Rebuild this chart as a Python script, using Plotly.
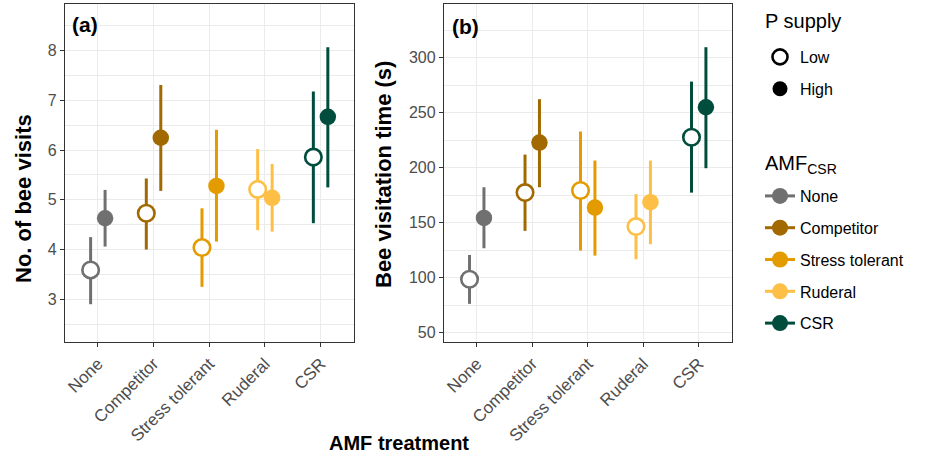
import plotly.graph_objects as go

# ---------------- data ----------------
categories = ["None", "Competitor", "Stress tolerant", "Ruderal", "CSR"]
amf_colors = ["#707070", "#A16900", "#E39B00", "#FDBF45", "#004D3D"]
p_levels = ["Low", "High"]

visits_low = [3.59, 4.73, 4.04, 5.21, 5.86]
visits_low_lo = [2.90, 4.00, 3.25, 4.39, 4.53]
visits_low_hi = [4.25, 5.43, 4.83, 6.02, 7.18]
visits_high = [4.63, 6.25, 5.28, 5.04, 6.67]
visits_high_lo = [4.06, 5.18, 4.16, 4.36, 5.25]
visits_high_hi = [5.20, 7.31, 6.41, 5.72, 8.07]

time_low = [98.6, 177.4, 179.3, 146.5, 227.8]
time_low_lo = [76.2, 142.6, 124.7, 116.8, 177.4]
time_low_hi = [120.7, 212.0, 233.0, 176.0, 278.4]
time_high = [154.4, 222.9, 163.8, 168.7, 255.1]
time_high_lo = [126.8, 182.3, 120.1, 130.5, 199.6]
time_high_hi = [182.3, 262.4, 206.6, 206.6, 309.7]

# ---------------- style ----------------
FONT = "Liberation Sans, Arial, Helvetica, sans-serif"
W, H = 927, 457
DODGE = 0.13
GRID = "#EBEBEB"
BORDER = "#333333"
TICKC = "#4D4D4D"

fig = go.Figure()

panels = [
    ("x", "y", (visits_low, visits_low_lo, visits_low_hi), (visits_high, visits_high_lo, visits_high_hi)),
    ("x2", "y2", (time_low, time_low_lo, time_low_hi), (time_high, time_high_lo, time_high_hi)),
]

for xa, ya, low, high in panels:
    for i, cat in enumerate(categories):
        c = amf_colors[i]
        for lvl, (vals, lo, hi), off in (("Low", low, -DODGE), ("High", high, DODGE)):
            v = vals[i]
            filled = lvl == "High"
            fig.add_trace(go.Scatter(
                x=[i + off], y=[v], xaxis=xa, yaxis=ya, mode="markers",
                showlegend=False,
                marker=dict(size=16.5, symbol="circle",
                            color=c if filled else "white",
                            line=dict(color=c, width=0 if filled else 2.6)),
                error_y=dict(type="data", symmetric=False,
                             array=[hi[i] - v], arrayminus=[v - lo[i]],
                             color=c, thickness=3, width=0),
            ))

# legend: P supply
for lvl in p_levels:
    filled = lvl == "High"
    fig.add_trace(go.Scatter(
        x=[None], y=[None], mode="markers", name=lvl, legend="legend",
        legendgroup="p" + lvl,
        marker=dict(size=15, symbol="circle", color="black" if filled else "white",
                    line=dict(color="black", width=0 if filled else 2.6)),
    ))
# legend: AMF
for i, cat in enumerate(categories):
    fig.add_trace(go.Scatter(
        x=[None], y=[None], mode="lines+markers", name=cat, legend="legend2",
        legendgroup="a" + cat,
        line=dict(color=amf_colors[i], width=3),
        marker=dict(size=16, color=amf_colors[i]),
    ))

def px_x(p):
    return p / W

def px_y(p):
    return 1 - p / H

top, bot = 4, 342
xa_dom = [px_x(65), px_x(354)]
xb_dom = [px_x(444), px_x(732)]
ydom = [px_y(bot), px_y(top)]

common_x = dict(
    tickvals=list(range(len(categories))), ticktext=categories, tickangle=-45,
    range=[-0.59, 4.6], showgrid=True, gridcolor=GRID, gridwidth=1.3,
    zeroline=False, showline=True, mirror=True, linecolor=BORDER, linewidth=1.3,
    ticks="outside", ticklen=4, tickcolor=BORDER, tickwidth=1.2,
    tickfont=dict(family=FONT, size=17, color=TICKC), automargin=False,
    fixedrange=True,
)
common_y = dict(
    showgrid=True, gridcolor=GRID, gridwidth=1.3, zeroline=False,
    showline=True, mirror=True, linecolor=BORDER, linewidth=1.3,
    ticks="outside", ticklen=4, tickcolor=BORDER, tickwidth=1.2,
    tickfont=dict(family=FONT, size=16, color=TICKC), automargin=False,
    domain=ydom,
)

legend_common = dict(
    xanchor="left", yanchor="top", font=dict(size=16, family=FONT, color="black"),
    traceorder="grouped", tracegroupgap=8, itemwidth=30, bgcolor="rgba(0,0,0,0)",
)

fig.update_layout(
    width=W, height=H, margin=dict(l=0, r=0, t=0, b=0),
    paper_bgcolor="white", plot_bgcolor="white",
    font=dict(family=FONT, color="black"),
    xaxis=dict(common_x, domain=xa_dom, anchor="y"),
    xaxis2=dict(common_x, domain=xb_dom, anchor="y2"),
    yaxis=dict(common_y, range=[2.14, 8.94], dtick=1, tick0=0, anchor="x",
               minor=dict(dtick=0.5, tick0=0, showgrid=True, gridcolor=GRID, gridwidth=0.7)),
    yaxis2=dict(common_y, range=[41.5, 349], dtick=50, tick0=0, anchor="x2",
                minor=dict(dtick=25, tick0=0, showgrid=True, gridcolor=GRID, gridwidth=0.7)),
    legend=dict(legend_common, x=px_x(760), y=px_y(40)),
    legend2=dict(legend_common, x=px_x(760), y=px_y(179)),
    showlegend=True,
)

ann = [
    dict(text="<b>(a)</b>", x=px_x(85), y=px_y(25), size=21, xanchor="center"),
    dict(text="<b>(b)</b>", x=px_x(466), y=px_y(26), size=21, xanchor="center"),
    dict(text="<b>No. of bee visits</b>", x=px_x(23), y=px_y(199), textangle=-90, size=22, xanchor="center"),
    dict(text="<b>Bee visitation time (s)</b>", x=px_x(383), y=px_y(175), textangle=-90, size=22, xanchor="center"),
    dict(text="<b>AMF treatment</b>", x=px_x(399), y=px_y(443), size=20, xanchor="center"),
    dict(text="P supply", x=px_x(763), y=px_y(21), size=20, xanchor="left"),
    dict(text="AMF<sub>CSR</sub>", x=px_x(763), y=px_y(164), size=20, xanchor="left"),
]
for a in ann:
    a = dict(a)
    size = a.pop("size")
    fig.add_annotation(xref="paper", yref="paper", showarrow=False,
                       yanchor="middle",
                       font=dict(family=FONT, color="black", size=size), **a)

fig.write_html("out.html")
